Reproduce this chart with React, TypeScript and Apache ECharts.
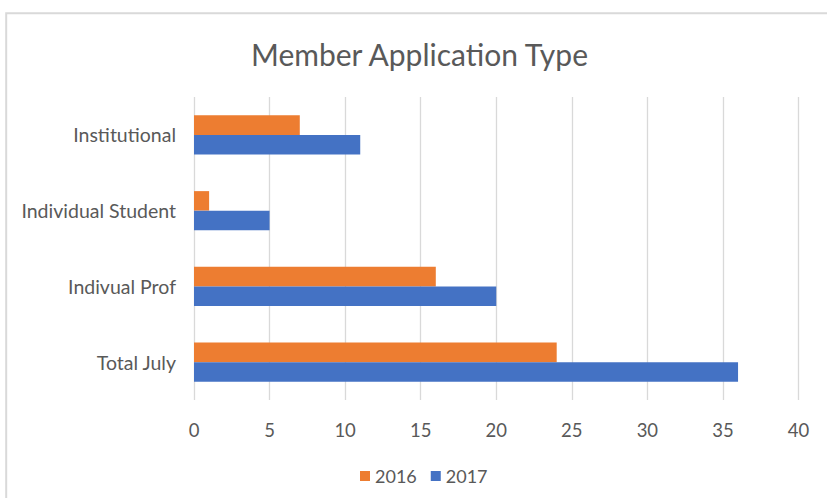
import React, { useEffect, useRef } from "react";
import * as echarts from "echarts";

const categories = ["Total July", "Indivual Prof", "Individual Student", "Institutional"];
const values2016 = [24, 16, 1, 7];
const values2017 = [36, 20, 5, 11];
const xTicks = { min: 0, max: 40, interval: 5 };
const titleText = "Member Application Type";

const FONT = "Lato";
const TEXT = "#595959";
const GRID = "#d9d9d9";

export default function App() {
  const ref = useRef<HTMLDivElement>(null);
  useEffect(() => {
    if (!ref.current) return;
    const chart = echarts.init(ref.current, undefined, { renderer: "svg" });
    chart.setOption({
      animation: false,
      backgroundColor: "#ffffff",
      title: {
        text: titleText,
        left: 414.5,
        textAlign: "center",
        top: 34,
        textStyle: { fontFamily: FONT, fontSize: 30, fontWeight: "normal", color: TEXT },
      },
      graphic: [
        {
          type: "rect",
          shape: { x: 6.2, y: 13.2, width: 1000, height: 1000 },
          style: { fill: "none", stroke: GRID, lineWidth: 2 },
          silent: true,
        },
      ],
      legend: {
        data: ["2016", "2017"],
        left: 355,
        top: 462,
        icon: "rect",
        itemWidth: 10,
        itemHeight: 10,
        itemGap: 14,
        textStyle: { fontFamily: FONT, fontSize: 18, color: TEXT },
      },
      grid: { left: 194, right: 28.5, top: 97, bottom: 98, containLabel: false },
      xAxis: {
        type: "value",
        min: xTicks.min,
        max: xTicks.max,
        interval: xTicks.interval,
        axisLine: { show: false },
        axisTick: { show: false },
        splitLine: { show: true, lineStyle: { color: GRID, width: 1.3 } },
        axisLabel: { fontFamily: FONT, fontSize: 18.5, color: TEXT, margin: 20 },
      },
      yAxis: {
        type: "category",
        data: categories,
        axisLine: { show: false },
        axisTick: { show: false },
        axisLabel: { fontFamily: FONT, fontSize: 19.5, color: TEXT, margin: 18 },
      },
      series: [
        {
          name: "2016",
          type: "bar",
          data: values2016,
          itemStyle: { color: "#ED7D31" },
          barGap: "0%",
          barCategoryGap: "48.5%",
        },
        {
          name: "2017",
          type: "bar",
          data: values2017,
          itemStyle: { color: "#4472C4" },
          barGap: "0%",
          barCategoryGap: "48.5%",
        },
      ],
    });
    return () => chart.dispose();
  }, []);
  return (
    <div
      ref={ref}
      style={{ position: "fixed", left: 0, top: 0, width: 827, height: 498 }}
    />
  );
}
